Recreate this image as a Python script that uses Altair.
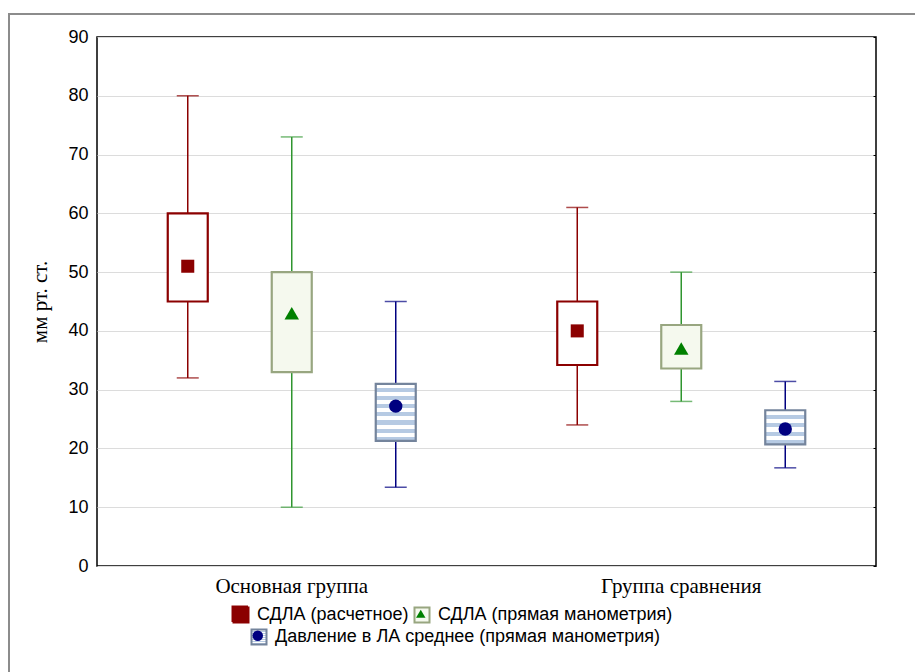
import altair as alt
import pandas as pd

groups = ["Основная группа", "Группа сравнения"]
series = [
    "СДЛА (расчетное)",
    "СДЛА (прямая манометрия)",
    "Давление в ЛА среднее (прямая манометрия)",
]

# values per group (rows) and per series (columns)
whisker_low = [[32, 10, 13.4], [24, 28, 16.7]]
box_low = [[45, 33, 21.3], [34.2, 33.6, 20.7]]
mean_val = [[51, 43, 27.2], [40, 37, 23.3]]
box_high = [[60, 50, 31.0], [45, 41, 26.5]]
whisker_high = [[80, 73, 45], [61, 50, 31.4]]

rows = []
for gi, g in enumerate(groups):
    for si, s in enumerate(series):
        rows.append(dict(group=g, series=s,
                         wlo=whisker_low[gi][si], blo=box_low[gi][si],
                         mean=mean_val[gi][si], bhi=box_high[gi][si],
                         whi=whisker_high[gi][si]))
df = pd.DataFrame(rows)

# styles
whisker_col = ["#8b0000", "#2f952f", "#000080"]
cap_col = ["#8b0000", "#3c9c3c", "#000080"]
box_stroke = ["#8b0000", "#98a680", "#74849c"]
box_fill = ["#ffffff", "#f5f9ee", "#ffffff"]
mean_col = ["#8b0000", "#008000", "#000080"]
mean_shape = ["square", "triangle-up", "circle"]
mean_size = [170, 210, 180]
legend_x = [135, 316, 153]
legend_y = [569, 569, 591]
legend_marker_size = [272, 90, 110]

yscale = alt.Scale(domain=[0, 90], nice=False, zero=True)
X = alt.X("group:N", sort=groups,
          scale=alt.Scale(domain=groups, paddingInner=0, paddingOuter=0),
          axis=alt.Axis(title=None, labelFont="Liberation Serif", labelFontSize=21,
                        labelColor="black", ticks=False, domain=False,
                        labelPadding=9, labelAngle=0))
XO = alt.XOffset("series:N", sort=series,
                 scale=alt.Scale(domain=series, paddingInner=0, paddingOuter=0.3726))

left_axis = alt.Axis(values=list(range(0, 100, 10)), title="мм рт. ст.",
                     titleFont="Liberation Serif", titleFontSize=21,
                     titleFontWeight="normal", titleColor="black", titlePadding=17,
                     labelFont="Liberation Sans", labelFontSize=18, labelColor="black",
                     labelPadding=9, ticks=False, domain=False,
                     grid=True, gridColor="#dcdcdc", gridWidth=1)
right_axis = alt.Axis(values=list(range(0, 100, 10)), orient="right", title=None,
                      labels=False, domain=False, grid=False, ticks=True,
                      tickSize=3, tickColor="black", offset=-3)


def stripes(n, c1, c2):
    stops = []
    for k in range(n):
        a = k / n
        b = (k + 0.5) / n
        c = (k + 1) / n
        stops += [alt.GradientStop(color=c1, offset=a), alt.GradientStop(color=c1, offset=b),
                  alt.GradientStop(color=c2, offset=b), alt.GradientStop(color=c2, offset=c)]
    return alt.Gradient(gradient="linear", x1=0, x2=0, y1=0, y2=1, stops=stops)


base = alt.Chart(df)
layers = []

# frame around the whole figure
frame = alt.Chart(alt.Data(values=[{"a": 1}])).mark_rect(
    fillOpacity=0, stroke="#8c8c8c", strokeWidth=2
).encode(x=alt.value(-88), x2=alt.value(900), y=alt.value(-23), y2=alt.value(700))
layers.append(frame)

for si, s in enumerate(series):
    sub = base.transform_filter(alt.datum.series == s)
    yax = left_axis if si == 0 else (right_axis if si == 1 else None)
    rule = sub.mark_rule(color=whisker_col[si], strokeWidth=1.5).encode(
        x=X, xOffset=XO, y=alt.Y("wlo:Q", scale=yscale, axis=yax), y2="whi:Q")
    cap_lo = sub.mark_tick(color=cap_col[si], size=22, thickness=1.5).encode(
        x=X, xOffset=XO, y=alt.Y("wlo:Q", scale=yscale, axis=None))
    cap_hi = sub.mark_tick(color=cap_col[si], size=22, thickness=1.5).encode(
        x=X, xOffset=XO, y=alt.Y("whi:Q", scale=yscale, axis=None))
    layers += [rule, cap_lo, cap_hi]

    box_leg = alt.Legend(title=None, orient="none", legendX=legend_x[si], legendY=legend_y[si],
                         symbolType="square", symbolSize=225, symbolStrokeWidth=2,
                         labelFont="Liberation Sans", labelFontSize=18, labelColor="black",
                         labelOffset=7, labelLimit=600)
    if si < 2:
        box = sub.mark_bar(size=40, strokeWidth=2.2).encode(
            x=X, xOffset=XO,
            y=alt.Y("blo:Q", scale=yscale, axis=None), y2="bhi:Q",
            fill=alt.Fill("series:N", scale=alt.Scale(domain=[s], range=[box_fill[si]]), legend=box_leg),
            stroke=alt.Stroke("series:N", scale=alt.Scale(domain=[s], range=[box_stroke[si]]), legend=box_leg),
        )
        layers.append(box)
    else:
        for gi, g in enumerate(groups):
            n = 7 if gi == 0 else 4
            subg = sub.transform_filter(alt.datum.group == g)
            box = subg.mark_bar(size=40, strokeWidth=2.2, fill=stripes(n, "#ffffff", "#b6cae3")).encode(
                x=X, xOffset=XO,
                y=alt.Y("blo:Q", scale=yscale, axis=None), y2="bhi:Q",
                stroke=alt.Stroke("series:N", scale=alt.Scale(domain=[s], range=[box_stroke[si]]),
                                  legend=box_leg if gi == 0 else None),
            )
            layers.append(box)

    mk_leg = alt.Legend(title=None, orient="none",
                        legendX=legend_x[si] + 7.5 - legend_marker_size[si] ** 0.5 / 2,
                        legendY=legend_y[si] + 7.5 - legend_marker_size[si] ** 0.5 / 2,
                        symbolSize=legend_marker_size[si], symbolStrokeWidth=0,
                        labelExpr="''", labelFontSize=1, labelOffset=0, labelLimit=1)
    mean = sub.mark_point(filled=True, size=mean_size[si], opacity=1).encode(
        x=X, xOffset=XO, y=alt.Y("mean:Q", scale=yscale, axis=None),
        color=alt.Color("series:N", scale=alt.Scale(domain=[s], range=[mean_col[si]]), legend=mk_leg),
        shape=alt.Shape("series:N", scale=alt.Scale(domain=[s], range=[mean_shape[si]]), legend=mk_leg),
    )
    layers.append(mean)

chart = alt.layer(*layers).resolve_scale(
    color="independent", fill="independent", stroke="independent", shape="independent"
).resolve_axis(y="independent").properties(
    width=779, height=529,
    autosize=alt.AutoSizeParams(type="none"),
    padding={"left": 97, "top": 37, "right": 39, "bottom": 106},
    background="white",
).configure_view(stroke="black", strokeWidth=1.5)

chart.save("out.html", embed_options={"renderer": "svg", "actions": False})
